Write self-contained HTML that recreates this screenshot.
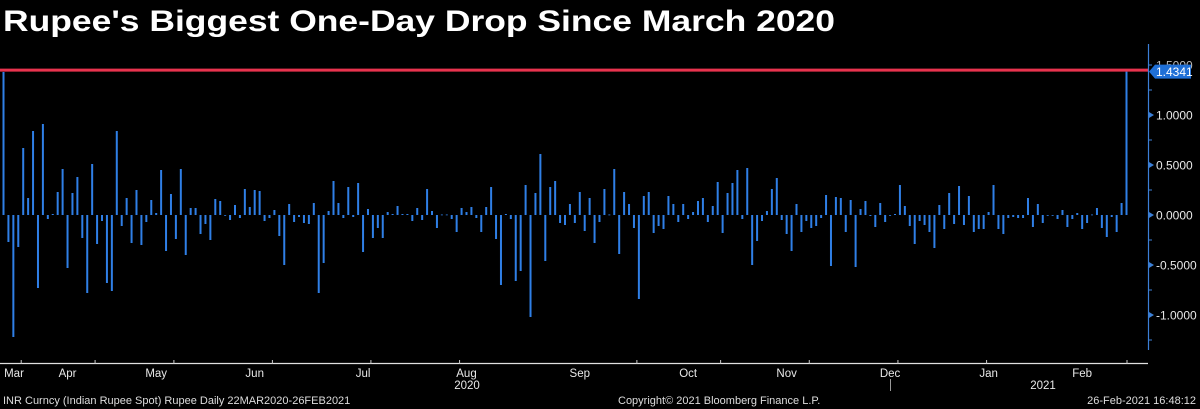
<!DOCTYPE html>
<html><head><meta charset="utf-8"><style>
html,body{margin:0;padding:0;background:#000;}
svg{display:block;font-family:"Liberation Sans","DejaVu Sans",sans-serif;}
</style></head><body>
<svg id="chart" width="1200" height="409" viewBox="0 0 1200 409" xmlns="http://www.w3.org/2000/svg">
<rect x="0" y="0" width="1200" height="409" fill="#000"/>
<text x="3" y="31" fill="#fff" font-size="30" font-weight="bold" textLength="832" lengthAdjust="spacingAndGlyphs">Rupee's Biggest One-Day Drop Since March 2020</text>
<g id="bars"></g>
<g id="yaxis"></g>
<g id="xaxis"></g>
<text x="3" y="404" fill="#ddd" font-size="11">INR Curncy (Indian Rupee Spot) Rupee  Daily 22MAR2020-26FEB2021</text>
<text x="618" y="404" fill="#ddd" font-size="11">Copyright© 2021 Bloomberg Finance L.P.</text>
<text x="1196" y="404" fill="#ddd" font-size="11" text-anchor="end">26-Feb-2021 16:48:12</text>
</svg>
<script>
const values = [1.43,-0.27,-1.22,-0.32,0.67,0.17,0.84,-0.73,0.91,-0.04,0.01,0.23,0.46,-0.53,0.22,0.38,-0.23,-0.78,0.51,-0.29,-0.06,-0.68,-0.76,0.84,-0.11,0.17,-0.28,0.25,-0.30,-0.07,0.15,0.02,0.45,-0.36,0.21,-0.24,0.46,-0.40,0.07,0.07,-0.19,-0.09,-0.25,0.16,0.14,0.0,-0.05,0.10,-0.03,0.26,0.08,0.25,0.24,-0.06,-0.03,0.05,-0.21,-0.50,0.11,-0.07,-0.02,
-0.08,-0.09,0.12,-0.78,-0.48,0.04,0.34,0.12,-0.03,0.28,-0.02,0.32,-0.37,0.06,-0.23,-0.13,-0.23,0.03,0.01,0.09,0.01,0.01,-0.06,0.07,-0.05,0.26,0.04,-0.13,0.005,0.005,-0.04,-0.17,0.07,0.03,0.08,-0.03,-0.17,0.08,0.28,-0.24,-0.70,0.01,-0.04,-0.66,-0.56,0.30,-1.02,0.22,0.61,-0.46,0.28,0.34,-0.08,-0.10,0.11,-0.08,0.23,-0.16,0.17,
-0.28,-0.07,0.26,0.005,0.46,-0.39,0.23,0.11,-0.13,-0.84,0.19,0.23,-0.18,-0.11,-0.14,0.19,0.11,-0.07,0.11,-0.04,0.03,0.14,0.17,-0.07,0.09,0.33,-0.18,0.22,0.32,0.45,-0.04,0.47,-0.50,-0.26,-0.06,0.04,0.26,0.37,-0.05,-0.19,-0.36,0.11,-0.17,-0.06,-0.13,-0.11,-0.03,0.20,-0.51,0.18,0.17,-0.17,0.15,-0.52,0.06,0.14,-0.01,-0.12,0.12,
-0.07,0.0,0.01,0.30,0.09,-0.11,-0.29,-0.06,-0.10,-0.17,-0.33,0.10,-0.14,0.22,-0.09,0.29,-0.10,0.19,-0.17,-0.14,-0.14,0.03,0.30,-0.14,-0.19,-0.03,-0.02,-0.03,-0.03,0.17,-0.12,0.11,-0.08,0.0,-0.005,-0.04,0.05,-0.12,-0.04,0.02,-0.14,-0.08,0.005,0.07,-0.13,-0.22,-0.02,-0.17,0.12,1.4341];
const yTicks = [1.0, 0.5, 0.0, -0.5, -1.0];
const yTickLabels = ["1.0000","0.5000","0.0000","-0.5000","-1.0000"];
const monthLabels = ["Mar","Apr","May","Jun","Jul","Aug","Sep","Oct","Nov","Dec","Jan","Feb"];
const monthStartIdx = [0,4,19,35,55,75,93,129,146,164,182,200];
const monthLabelIdx = [2,13,31,51,73,94,117,139,159,180,200,219];
const lastValue = 1.4341;

const NS="http://www.w3.org/2000/svg";
const X0=3.5, X1=1126.5, ZERO=215, PPU=100;
function y(v){return ZERO - v*PPU;}
function x(i){return X0 + (X1-X0)*i/(values.length-1);}
function mk(tag,attrs,parent){const e=document.createElementNS(NS,tag);for(const k in attrs)e.setAttribute(k,attrs[k]);parent.appendChild(e);return e;}

const bars=document.getElementById('bars');
values.forEach((v,i)=>{
  const top=Math.min(y(v),ZERO), h=Math.max(Math.abs(y(v)-ZERO),0.8);
  const r=mk('rect',{x:x(i)-1,y:top,width:2,height:h,fill:'#2f7fe6'},bars);
  
  
});

const ya=document.getElementById('yaxis');
const ref=mk('line',{x1:0,x2:1148,y1:y(lastValue)-1.5,y2:y(lastValue)-1.5,stroke:'#e8334e','stroke-width':3},ya);


const al=mk('line',{x1:1148.5,x2:1148.5,y1:44,y2:350,stroke:'#3b7fd6','stroke-width':1.2},ya);


for(let v=1.5;v>=-1.25;v-=0.25){
  const m=mk('line',{x1:1149,x2:1152,y1:y(v),y2:y(v),stroke:'#3b7fd6'},ya);
  
  
}
yTicks.forEach((v,i)=>{
  const t=mk('path',{d:`M1149 ${y(v)-3}L1154 ${y(v)}L1149 ${y(v)+3}Z`,fill:'#3b7fd6'},ya);
  
  
  const l=mk('text',{x:1156,y:y(v)+4.5,fill:'#e8e8e8','font-size':12},ya);
  l.textContent=yTickLabels[i];
  
  
});
const hid=mk('text',{x:1156,y:y(1.5)+4.5,fill:'#bbb','font-size':12},ya);
hid.textContent="1.5000";


const yl=y(lastValue);
const badge=mk('path',{d:`M1149 ${yl}L1155 ${yl-7}L1191 ${yl-7}L1191 ${yl+7}L1155 ${yl+7}Z`,fill:'#1f6fd6'},ya);


const bt=mk('text',{x:1156,y:yl+4.5,fill:'#fff','font-size':12},ya);
bt.textContent=lastValue.toFixed(4);



const xa=document.getElementById('xaxis');
const xl=mk('line',{x1:0,x2:1148,y1:363.5,y2:363.5,stroke:'#e0e0e0','stroke-width':1.2},xa);


monthStartIdx.forEach((idx,i)=>{
  if(i>0){
    const t=mk('line',{x1:x(idx)-2,x2:x(idx)-2,y1:360,y2:364,stroke:'#ccc'},xa);
    
    
  }
  const l=mk('text',{x:i===0?14:x(monthLabelIdx[i]),y:377,fill:'#e8e8e8','font-size':11.5,'text-anchor':'middle'},xa);
  l.textContent=monthLabels[i];
  
  
});
const et=mk('line',{x1:1127,x2:1127,y1:360,y2:364,stroke:'#ccc'},xa);


const y20=mk('text',{x:467,y:389,fill:'#e8e8e8','font-size':11.5,'text-anchor':'middle'},xa);
y20.textContent="2020";


const y21=mk('text',{x:1043,y:389,fill:'#e8e8e8','font-size':11.5,'text-anchor':'middle'},xa);
y21.textContent="2021";


const sep=mk('line',{x1:890.5,x2:890.5,y1:379,y2:391,stroke:'#999'},xa);


</script>
</body></html>
